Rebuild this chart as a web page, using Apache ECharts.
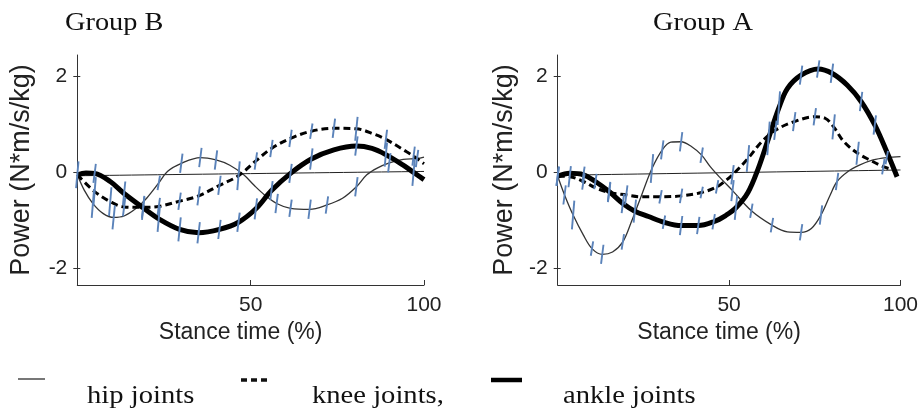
<!DOCTYPE html>
<html>
<head>
<meta charset="utf-8">
<script src="https://cdn.jsdelivr.net/npm/echarts@6/dist/echarts.min.js"></script>
<style>
  html, body { margin: 0; padding: 0; background: #fff; }
  #main { width: 921px; height: 408px; }
</style>
</head>
<body>
<div id="main"></div>
<script>
  // [stance %, power, error half-length (null = no bar)]
  const hipB = [
    [0, -0.05, null], [2, -0.37, null], [4.5, -0.65, 0.3], [7.5, -0.86, null], [10.5, -0.94, 0.25],
    [13.5, -0.91, null], [17, -0.75, null], [20, -0.54, null], [23.5, -0.22, 0.15], [26, 0.02, null],
    [30, 0.19, 0.2], [35.5, 0.31, 0.2], [40, 0.26, 0.2], [44, 0.15, null], [48, -0.05, null],
    [51, -0.27, null], [54, -0.47, null], [57.5, -0.65, 0.2], [61.5, -0.75, 0.18], [67, -0.77, 0.2],
    [72, -0.68, 0.18], [76.5, -0.54, null], [80.5, -0.3, 0.2], [83.5, -0.05, null], [86.5, 0.09, null],
    [90, 0.2, 0.2], [94, 0.27, null], [98, 0.29, 0.18], [100, 0.32, null]
  ];
  const kneeB = [
    [0, -0.05, null], [5, -0.4, 0.3], [9.5, -0.61, 0.3], [13.5, -0.72, 0.2], [19, -0.73, 0.22],
    [23.5, -0.71, 0.18], [29.5, -0.6, 0.18], [35, -0.49, 0.2], [41, -0.27, 0.2], [46.5, -0.07, 0.3],
    [51.5, 0.24, 0.18], [56, 0.5, 0.18], [61.5, 0.71, 0.18], [67.5, 0.86, 0.16], [74, 0.92, 0.2],
    [80.5, 0.91, 0.25], [85.5, 0.8, null], [89, 0.69, 0.2], [95, 0.43, null], [97, 0.34, 0.2],
    [100, 0.18, null]
  ];
  const ankleB = [
    [0, -0.05, 0.28], [2.5, -0.01, null], [5, -0.02, 0.2], [9.5, -0.19, null], [13.5, -0.44, 0.25],
    [19, -0.74, 0.25], [23.5, -0.97, 0.27], [29.5, -1.19, 0.25], [35, -1.26, 0.22], [41, -1.19, 0.2],
    [46.5, -1.04, 0.2], [51.5, -0.76, 0.22], [56, -0.38, 0.2], [61.5, -0.02, 0.2], [67.5, 0.28, 0.22],
    [74, 0.47, null], [80.5, 0.55, 0.2], [85, 0.5, null], [89, 0.37, 0.25], [94, 0.15, null],
    [97, 0.0, 0.28], [100, -0.15, null]
  ];

  const hipA = [
    [0, -0.08, 0.2], [2, -0.47, 0.2], [4.5, -0.89, 0.3], [7.5, -1.31, null], [10, -1.59, 0.15],
    [13, -1.71, 0.2], [16, -1.66, null], [19, -1.45, 0.16], [21.5, -1.03, null], [24.5, -0.47, null],
    [27.5, 0.08, 0.3], [30.5, 0.47, 0.2], [33, 0.63, null], [36, 0.64, 0.2], [39, 0.54, null],
    [42, 0.36, 0.16], [44.5, 0.12, null], [47.5, -0.12, null], [51, -0.38, 0.22], [56.5, -0.8, 0.15],
    [62.5, -1.1, 0.15], [67, -1.24, null], [71, -1.25, 0.17], [74, -1.17, null], [76.8, -0.89, 0.2],
    [79.5, -0.47, null], [81.5, -0.19, 0.18], [84.5, 0.01, null], [88, 0.15, null], [92, 0.26, null],
    [96, 0.31, 0.14], [100, 0.33, null]
  ];
  const kneeA = [
    [0, -0.08, null], [3.5, -0.09, 0.22], [7.5, -0.19, 0.17], [11, -0.32, null], [15, -0.42, 0.2],
    [20, -0.47, 0.2], [24.5, -0.51, null], [30, -0.51, 0.14], [36, -0.49, 0.15], [42, -0.42, 0.12],
    [46.5, -0.3, 0.14], [49, -0.17, null], [51, -0.05, 0.2], [55.5, 0.29, 0.28], [59.5, 0.64, null],
    [63.5, 0.88, 0.2], [69, 1.06, 0.2], [75, 1.16, 0.18], [78, 1.13, null], [80.5, 0.95, 0.26],
    [83.5, 0.64, null], [87.5, 0.4, 0.24], [91, 0.26, null], [95, 0.12, 0.16], [98, 0.05, null]
  ];
  const ankleA = [
    [0, -0.08, 0.2], [3.5, -0.02, null], [7.5, -0.05, 0.17], [11, -0.19, 0.16], [15, -0.4, 0.2],
    [19, -0.65, 0.2], [22.5, -0.81, 0.24], [26.5, -0.92, null], [31, -1.04, 0.14], [36, -1.11, 0.2],
    [41, -1.11, 0.18], [45.5, -1.03, 0.16], [49, -0.9, null], [52, -0.74, 0.25], [55.5, -0.42, null],
    [58.5, 0.08, null], [61.5, 0.71, 0.35], [64.5, 1.34, 0.35], [67, 1.75, null], [71, 2.03, 0.2],
    [76, 2.16, 0.18], [80, 2.07, 0.2], [84.5, 1.82, null], [88.5, 1.48, 0.2], [92.5, 0.99, 0.2],
    [96, 0.43, null], [99, -0.09, null]
  ];

  // thin reference line near zero
  const zeroB = [[0, -0.07], [100, 0.02]];
  const zeroA = [[0, -0.06], [100, 0.05]];

  const yTicks = [-2, 0, 2];
  const xTicks = [50, 100];
  const groupTitles = ['Group B', 'Group A'];
  const legendNames = ['hip joints', 'knee joints,', 'ankle joints'];

  const SANS = "'Liberation Sans', Arial, sans-serif";
  const SERIF = "'Liberation Serif', 'Times New Roman', serif";
  const barColor = '#5b83ba';

  const grids = [
    { left: 77.3, top: 55, width: 346.7, height: 230 },
    { left: 557.7, top: 55, width: 348.3, height: 230 }
  ];

  function xAxisFor(i) {
    return {
      gridIndex: i, type: 'value', min: 0, max: 100,
      name: 'Stance time (%)', nameLocation: 'middle', nameGap: 30,
      nameTextStyle: { fontFamily: SANS, fontSize: 23, color: '#222', padding: [0, 20, 0, 0] },
      axisLine: { onZero: false, lineStyle: { color: '#333', width: 1 } },
      axisTick: { inside: true, length: 5, customValues: xTicks, lineStyle: { color: '#333' } },
      axisLabel: { customValues: xTicks, fontFamily: SANS, fontSize: 21, color: '#222', margin: 10 },
      splitLine: { show: false }
    };
  }
  function yAxisFor(i, gap) {
    return {
      gridIndex: i, type: 'value', min: -2.35, max: 2.45,
      name: 'Power (N*m/s/kg)', nameLocation: 'middle', nameGap: gap,
      nameTextStyle: { fontFamily: SANS, fontSize: 27, color: '#222' },
      axisLine: { onZero: false, lineStyle: { color: '#333', width: 1 } },
      axisTick: { length: 4, customValues: yTicks, lineStyle: { color: '#333' } },
      axisLabel: { customValues: yTicks, fontFamily: SANS, fontSize: 21, color: '#222', margin: 10 },
      splitLine: { show: false }
    };
  }
  function innerTicks(i) {
    return {
      gridIndex: i, type: 'value', min: -2.35, max: 2.45, position: 'left',
      axisLine: { show: false, onZero: false },
      axisTick: { inside: true, length: 3, customValues: [-2, 2], lineStyle: { color: '#333' } },
      axisLabel: { show: false },
      splitLine: { show: false }
    };
  }

  function lineSeries(data, axis, style) {
    return {
      type: 'line', xAxisIndex: axis, yAxisIndex: axis * 2,
      data: data.map(d => [d[0], d[1]]),
      smooth: 0.35, showSymbol: false, symbol: 'none',
      lineStyle: style, z: 3, silent: true
    };
  }
  function errSeries(curves, axis) {
    const pts = [];
    curves.forEach(c => c.forEach(d => { if (d[2] != null) pts.push(d); }));
    return {
      type: 'custom', xAxisIndex: axis, yAxisIndex: axis * 2, z: 6, silent: true,
      data: pts,
      renderItem: function(params, api) {
        const x = api.value(0), y = api.value(1), e = api.value(2);
        const lo = api.coord([x, y - e]);
        const hi = api.coord([x, y + e]);
        return {
          type: 'line',
          shape: { x1: lo[0] - 1.2, y1: lo[1], x2: hi[0] + 1.2, y2: hi[1] },
          style: { stroke: barColor, lineWidth: 1.9 }
        };
      }
    };
  }

  const sets = [
    { hip: hipB, knee: kneeB, ankle: ankleB, zero: zeroB },
    { hip: hipA, knee: kneeA, ankle: ankleA, zero: zeroA }
  ];
  const series = [];
  sets.forEach((s, i) => {
    series.push(lineSeries(s.zero, i, { color: '#222', width: 1 }));
    series.push(lineSeries(s.hip, i, { color: '#333', width: 1.3 }));
    series.push(lineSeries(s.knee, i, { color: '#000', width: 3, type: [7, 4] }));
    series.push(lineSeries(s.ankle, i, { color: '#000', width: 5 }));
    series.push(errSeries([s.hip, s.knee, s.ankle], i));
  });

  const titleText = (txt, x) => ({
    type: 'text', x: x, y: 23, scaleX: 1.09,
    style: { text: txt, font: '26px ' + SERIF, fill: '#111', textAlign: 'left', textVerticalAlign: 'middle' }
  });
  const legendText = (txt, x) => ({
    type: 'text', x: x, y: 396, scaleX: 1.1,
    style: { text: txt, font: '26px ' + SERIF, fill: '#111', textAlign: 'left', textVerticalAlign: 'middle' }
  });

  const chart = echarts.init(document.getElementById('main'));
  chart.setOption({
    animation: false,
    backgroundColor: '#fff',
    grid: grids,
    xAxis: [xAxisFor(0), xAxisFor(1)],
    yAxis: [yAxisFor(0, 42), innerTicks(0), yAxisFor(1, 40), innerTicks(1)],
    series: series,
    graphic: [
      titleText(groupTitles[0], 65),
      titleText(groupTitles[1], 653),
      { type: 'line', shape: { x1: 18, y1: 379, x2: 45, y2: 379 }, style: { stroke: '#777', lineWidth: 2 } },
      { type: 'line', shape: { x1: 241, y1: 380, x2: 269, y2: 380 }, style: { stroke: '#111', lineWidth: 3.5, lineDash: [6, 4] } },
      { type: 'line', shape: { x1: 491, y1: 380, x2: 522, y2: 380 }, style: { stroke: '#000', lineWidth: 4.5 } },
      legendText(legendNames[0], 87),
      legendText(legendNames[1], 312),
      legendText(legendNames[2], 563)
    ]
  });
</script>
</body>
</html>
